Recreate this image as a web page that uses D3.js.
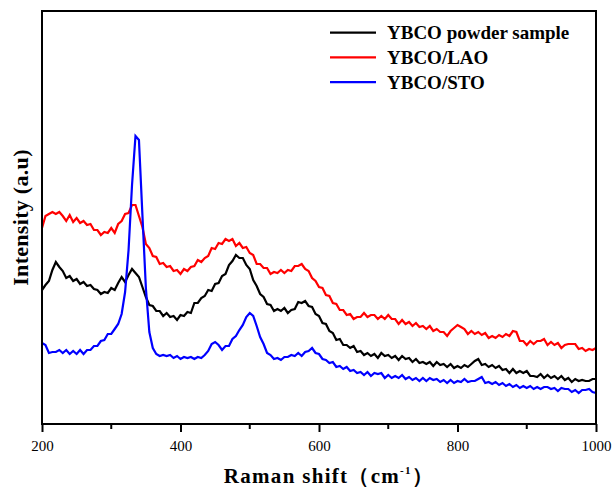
<!DOCTYPE html>
<html>
<head>
<meta charset="utf-8">
<script src="https://cdn.jsdelivr.net/npm/d3@7"></script>
<style>
  body { margin: 0; background: #fff; }
  text { font-family: "Liberation Serif", "Times New Roman", serif; }
</style>
</head>
<body>
<div id="graph"></div>
<script>
// raman spectra, sampled every 5 cm-1 from 200 to 1000
var shift = d3.range(200, 1001, 5)

var powder = [
  134,139,143,154,162,157,153,146,148,143,145,140,142,138,139,135,134,130,132,131,
  136,134,141,147,142,149,155,151,147,137,127,119,118,113,113,108,111,107,108,104,
  109,108,112,111,121,121,126,128,134,133,140,141,148,150,159,163,169,166,166,159,
  155,144,138,130,127,120,119,113,115,113,116,111,114,115,122,121,123,118,117,110,
  108,101,100,93,91,84,85,79,79,76,78,72,73,69,71,68,70,66,71,68,
  69,66,68,64,68,65,66,62,65,61,62,60,62,58,62,59,60,57,60,56,
  58,56,59,57,60,63,65,59,60,57,59,56,58,54,55,51,55,51,53,51,
  53,48,48,47,50,46,49,46,48,45,48,44,46,42,45,43,44,43,43,45,
  45
]

var lao = [
  196,208,210,212,210,212,208,203,209,202,206,201,203,199,200,194,194,189,192,191,
  196,191,200,203,210,211,219,219,208,197,180,176,168,167,160,161,157,158,153,154,
  150,155,153,157,158,164,162,166,168,176,175,181,180,185,183,185,178,181,176,177,
  171,169,160,160,156,156,150,152,151,154,151,154,153,158,158,160,155,153,146,143,
  137,136,129,128,121,120,114,114,109,110,105,107,107,111,107,109,109,105,108,105,
  109,105,105,100,104,100,102,98,101,97,98,95,98,93,95,92,92,88,93,96,
  99,97,95,90,93,90,92,89,91,86,88,86,89,87,90,88,93,92,83,83,
  79,83,80,83,83,85,79,82,79,81,76,79,80,80,80,75,76,73,75,74,
  76
]

var sto = [
  81,79,71,72,72,74,71,74,70,73,70,74,70,74,74,78,78,83,84,90,
  90,95,100,110,132,174,239,288,284,209,136,92,76,70,68,69,68,69,66,68,
  65,67,66,67,65,67,66,69,73,80,82,79,74,78,78,85,88,94,99,107,
  111,108,98,87,80,71,69,65,66,64,67,67,69,68,71,68,72,73,76,71,
  70,65,64,61,62,57,58,55,57,53,54,51,52,49,52,48,51,50,51,46,
  49,46,48,46,49,45,47,44,46,43,46,43,46,44,45,42,44,41,44,41,
  43,42,45,42,43,43,45,47,41,42,40,42,39,41,38,40,37,39,36,38,
  36,38,35,37,35,37,37,35,36,33,36,35,35,32,34,31,34,34,35,32,
  31
]

var names = ['YBCO powder sample', 'YBCO/LAO', 'YBCO/STO']
var colors = ['#000000', '#ff0000', '#0000ff']
var majorTicks = [200, 400, 600, 800, 1000]
var minorTicks = [300, 500, 700, 900]

var series = [powder, lao, sto].map((vals, i) => ({
  name: names[i],
  color: colors[i],
  values: vals.map((v, j) => ({shift: shift[j], y: v}))
}))

var width = 614, height = 490
var margin = {top: 11, left: 42, right: 18, bottom: 66}

var svg = d3.select('#graph').append('svg')
  .attr('width', width)
  .attr('height', height)

var x = d3.scaleLinear().domain([200, 1000]).range([margin.left, width - margin.right])
var y = d3.scaleLinear().domain([0, 413]).range([height - margin.bottom, margin.top])

var line = d3.line()
  .x(d => x(d.shift))
  .y(d => y(d.y))

svg.append('g')
  .selectAll('path')
  .data(series)
  .join('path')
  .attr('d', d => line(d.values))
  .attr('fill', 'none')
  .attr('stroke', d => d.color)
  .attr('stroke-width', 2.2)
  .attr('stroke-linejoin', 'miter')

// frame
svg.append('rect')
  .attr('x', x(200))
  .attr('y', y(413))
  .attr('width', x(1000) - x(200))
  .attr('height', y(0) - y(413))
  .attr('fill', 'none')
  .attr('stroke', '#000')
  .attr('stroke-width', 2)

var xAxis = d3.axisBottom(x)
  .tickValues(majorTicks)
  .tickSize(8)
  .tickPadding(8)
  .tickFormat(d3.format('d'))

var axisSel = svg.append('g')
  .attr('transform', `translate(0,${y(0)})`)
  .call(xAxis)
axisSel.select('.domain').remove()
axisSel.selectAll('line').attr('stroke-width', 2)
axisSel.selectAll('text')
  .attr('font-size', 15)
  .attr('font-family', '"Liberation Serif", serif')
  .attr('fill', '#000')

svg.append('g')
  .selectAll('line')
  .data(minorTicks)
  .join('line')
  .attr('x1', d => x(d)).attr('x2', d => x(d))
  .attr('y1', y(0)).attr('y2', y(0) + 5)
  .attr('stroke', '#000')
  .attr('stroke-width', 2)

// axis titles
var xt = svg.append('text')
  .attr('x', 329)
  .attr('y', 483)
  .attr('text-anchor', 'middle')
  .attr('font-size', 21)
  .attr('font-weight', 'bold')
  .attr('letter-spacing', 1.3)
xt.append('tspan').text('Raman shift（cm')
xt.append('tspan').text('-1').attr('font-size', 11).attr('dy', -9)
xt.append('tspan').text('）').attr('dy', 9)

svg.append('text')
  .attr('transform', `translate(28,${(y(0) + y(413)) / 2}) rotate(-90)`)
  .attr('text-anchor', 'middle')
  .attr('font-size', 22)
  .attr('font-weight', 'bold')
  .attr('letter-spacing', 0.3)
  .text('Intensity (a.u)')

// legend
var leg = svg.append('g')
  .selectAll('g')
  .data(series)
  .join('g')
  .attr('transform', (d, i) => `translate(330,${32.6 + i * 24.8})`)

leg.append('line')
  .attr('x1', 0).attr('x2', 46)
  .attr('stroke', d => d.color)
  .attr('stroke-width', 2.2)

leg.append('text')
  .attr('x', 57)
  .attr('dy', '0.35em')
  .attr('font-size', 19)
  .attr('font-weight', 'bold')
  .text(d => d.name)
</script>
</body>
</html>
